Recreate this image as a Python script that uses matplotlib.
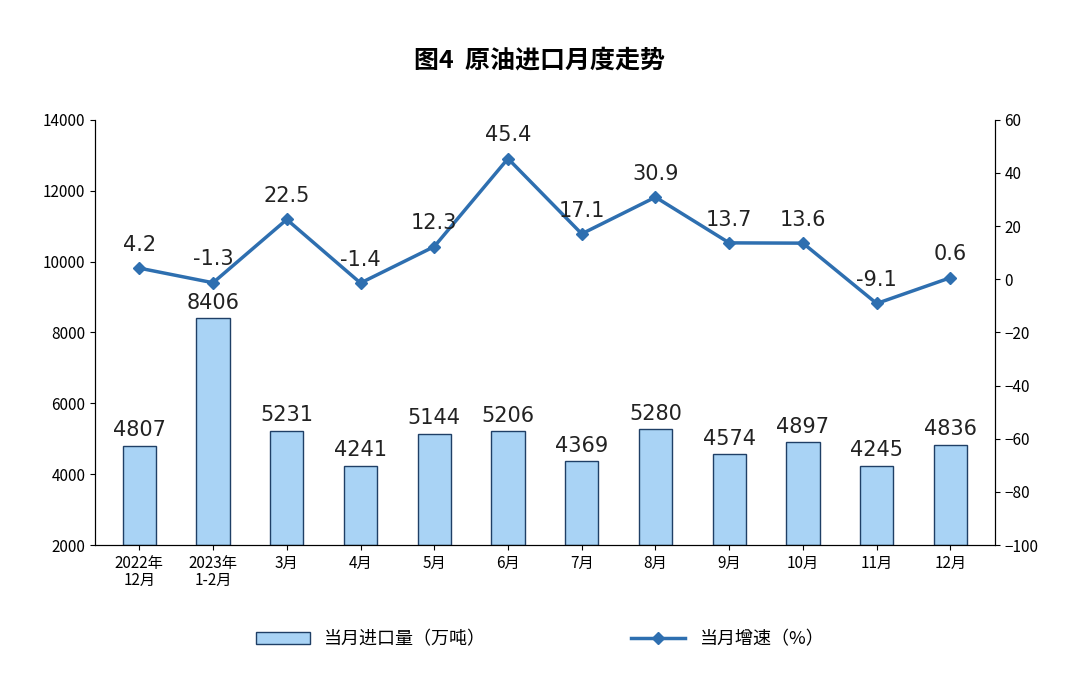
import matplotlib.pyplot as plt
from matplotlib.patches import Rectangle
from matplotlib.lines import Line2D

cjk = ['Noto Sans CJK JP', 'Noto Sans CJK SC', 'Noto Sans CJK TC', 'Noto Sans CJK KR', 'DejaVu Sans']
plt.rcParams['font.family'] = cjk

categories = ['2022年\n12月', '2023年\n1-2月', '3月', '4月', '5月', '6月',
              '7月', '8月', '9月', '10月', '11月', '12月']
volume = [4807, 8406, 5231, 4241, 5144, 5206, 4369, 5280, 4574, 4897, 4245, 4836]
growth = [4.2, -1.3, 22.5, -1.4, 12.3, 45.4, 17.1, 30.9, 13.7, 13.6, -9.1, 0.6]

fig = plt.figure(figsize=(10.8, 6.73), dpi=100)
ax = fig.add_axes([0.088, 0.19, 0.833, 0.632])
x = range(len(categories))

ax.bar(x, [v - 2000 for v in volume], bottom=2000, width=0.45,
       color='#a9d3f5', edgecolor='#1f3f66', linewidth=1.0, zorder=2)
for i, v in enumerate(volume):
    ax.text(i, v + 150, str(v), ha='center', va='bottom', fontsize=15,
            color='#222222', fontfamily='DejaVu Sans')

ax.set_ylim(2000, 14000)
ax.set_yticks(range(2000, 14001, 2000))
ax.set_xlim(-0.6, len(categories) - 0.4)
ax.set_xticks(list(x))
ax.set_xticklabels(categories, fontsize=11, linespacing=1.0)
ax.tick_params(axis='y', labelsize=11)
ax.spines['top'].set_visible(False)

ax2 = ax.twinx()
ax2.plot(list(x), growth, color='#2e6fb0', linewidth=2.5, marker='D', markersize=6, zorder=3)
for i, g in enumerate(growth):
    ax2.text(i, g + 5, f'{g}', ha='center', va='bottom', fontsize=15,
             color='#222222', fontfamily='DejaVu Sans')
ax2.set_ylim(-100, 60)
ax2.set_yticks(range(-100, 61, 20))
ax2.tick_params(axis='y', labelsize=11)
ax2.spines['top'].set_visible(False)

fig.text(0.5, 0.9, '图4  原油进口月度走势', ha='center', fontsize=18, fontweight='bold')

handles = [Rectangle((0, 0), 1, 1, facecolor='#a9d3f5', edgecolor='#1f3f66'),
           Line2D([], [], color='#2e6fb0', linewidth=2.5, marker='D', markersize=6)]
fig.legend(handles, ['当月进口量（万吨）', '当月增速（%）'], loc='center',
           bbox_to_anchor=(0.5, 0.05), ncol=2, frameon=False, fontsize=13,
           columnspacing=8, handlelength=3)

fig.savefig('out.png', dpi=100)
